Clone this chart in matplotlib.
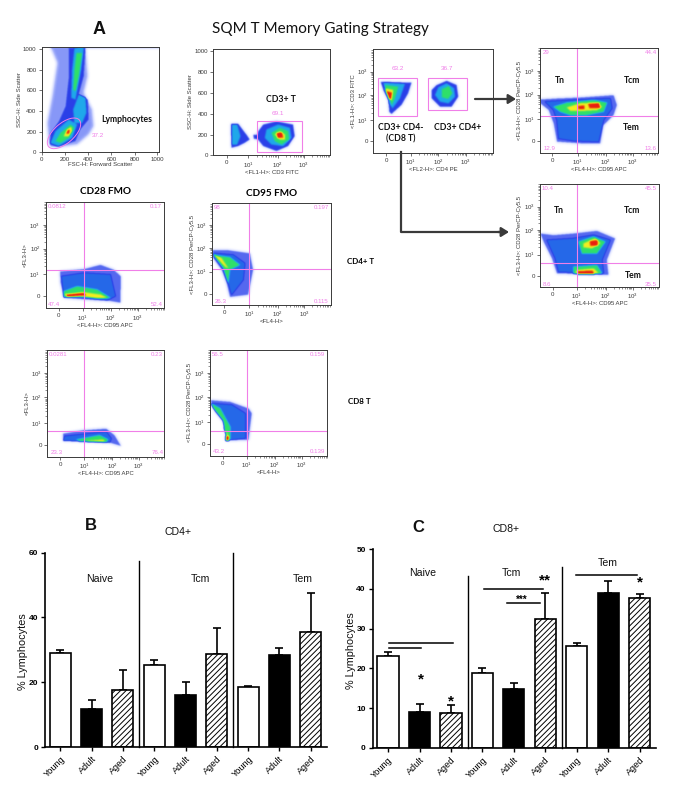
import numpy as np
import matplotlib
matplotlib.use("Agg")
from matplotlib import pyplot as plt
from matplotlib.colors import LinearSegmentedColormap
from matplotlib.patches import Ellipse, Rectangle
from matplotlib.path import Path

plt.rcParams['font.family'] = ['Liberation Sans', 'DejaVu Sans']
plt.rcParams['hatch.linewidth'] = 0.7

W, H = 688, 800
GATE = '#f07fe8'
GREY = '#3a3a3a'

# ---- bar charts ----
groups = ['Young', 'Adult', 'Aged'] * 3
cd4_vals = [29.0, 11.7, 17.6, 25.3, 16.2, 28.6, 18.5, 28.5, 35.5]
cd4_err = [0.9, 2.9, 6.2, 1.7, 3.8, 8.0, 0.3, 2.0, 12.2]
cd8_vals = [23.0, 9.0, 8.9, 18.9, 14.8, 32.4, 25.7, 38.9, 37.7]
cd8_err = [1.2, 2.1, 2.0, 1.3, 1.6, 6.5, 0.8, 3.0, 0.9]
bar_kinds = ['white', 'black', 'hatch'] * 3

# ---- flow panels, outlines are in scan channels, (level, outline), level 1 blue ... 5 red ----
fsc_clouds = [
    (0.45, [(150, 112), (255, 112), (262, 200), (250, 250), (275, 300), (280, 350), (265, 375), (230, 405), (180, 412), (150, 412), (145, 400), (140, 340), (155, 260), (170, 160)]),
    (1, [(150, 109), (478, 109), (478, 114), (150, 114)]),
    (1, [(205, 115), (255, 115), (250, 200), (235, 255), (262, 270), (265, 330), (240, 360), (225, 395), (170, 412), (148, 405), (150, 370), (175, 335), (195, 290), (205, 200)]),
    (2, [(222, 115), (250, 115), (242, 180), (225, 270), (212, 265), (215, 180)]),
    (2, [(235, 255), (255, 265), (258, 310), (245, 340), (222, 340), (218, 300)]),
    (2, [(150, 400), (165, 365), (205, 330), (230, 345), (215, 385), (175, 410)]),
    (3, [(228, 130), (245, 130), (235, 200), (225, 245), (218, 240), (222, 180)]),
    (3, [(165, 395), (180, 370), (210, 345), (222, 355), (205, 385), (180, 400)]),
    (4, [(190, 380), (200, 360), (212, 352), (215, 365), (205, 380)]),
    (5, [(197, 372), (203, 360), (208, 362), (206, 372)]),
    (5, [(232, 106), (250, 106), (250, 113), (232, 113)]),
]
cd3_clouds = [
    (1, [(693, 342), (715, 342), (740, 375), (750, 390), (735, 400), (715, 410), (695, 415)]),
    (1, [(790, 345), (830, 335), (880, 345), (885, 380), (865, 410), (830, 425), (790, 410), (770, 385), (775, 365)]),
    (1, [(760, 375), (780, 375), (775, 390), (762, 388)]),
    (2, [(697, 345), (712, 345), (722, 380), (712, 405), (697, 405)]),
    (2, [(800, 360), (835, 345), (870, 355), (875, 385), (850, 410), (815, 405), (795, 385)]),
    (3, [(815, 370), (840, 355), (865, 365), (868, 390), (845, 405), (825, 395)]),
    (4, [(825, 375), (840, 365), (855, 375), (855, 390), (840, 390)]),
    (5, [(830, 370), (847, 368), (850, 384), (833, 386)]),
]
cd4_clouds = [
    (1, [(122, 215), (215, 218), (205, 250), (185, 285), (155, 312), (148, 305), (145, 270), (130, 240)]),
    (1, [(290, 225), (320, 212), (350, 225), (355, 260), (335, 290), (300, 290), (275, 265), (275, 240)]),
    (2, [(130, 218), (195, 222), (180, 265), (158, 295), (148, 280), (140, 240)]),
    (2, [(295, 232), (320, 220), (342, 235), (345, 260), (325, 280), (300, 275), (285, 255)]),
    (3, [(133, 225), (175, 230), (165, 265), (155, 285), (150, 265)]),
    (3, [(305, 238), (327, 228), (337, 250), (324, 267), (306, 262)]),
    (4, [(135, 235), (160, 240), (155, 270), (150, 270), (140, 250)]),
    (5, [(138, 243), (157, 248), (154, 268), (146, 265)]),
]
tcd4_clouds = [
    (0.8, [(600, 268), (650, 265), (720, 262), (820, 255), (830, 285), (820, 315), (790, 345), (780, 400), (720, 400), (650, 395), (640, 340), (625, 300), (600, 280)]),
    (1.4, [(615, 275), (700, 270), (810, 265), (815, 295), (790, 330), (775, 395), (700, 392), (655, 385), (650, 330), (640, 300)]),
    (3, [(640, 290), (680, 278), (760, 270), (800, 278), (790, 305), (740, 315), (690, 315), (660, 305)]),
    (4, [(680, 292), (720, 280), (770, 278), (785, 290), (770, 300), (720, 303), (690, 302)]),
    (5, [(743, 281), (777, 278), (780, 294), (748, 295)]),
    (5, [(713, 288), (732, 286), (732, 297), (715, 298)]),
]
tcd8_clouds = [
    (0.8, [(600, 190), (640, 195), (700, 190), (770, 182), (825, 205), (800, 270), (805, 315), (650, 310), (635, 265), (610, 215)]),
    (1.4, [(620, 210), (700, 205), (760, 195), (810, 210), (785, 270), (790, 310), (655, 305), (645, 265)]),
    (3, [(715, 215), (760, 200), (795, 215), (770, 250), (725, 250)]),
    (3, [(700, 290), (770, 285), (785, 310), (700, 310)]),
    (4, [(730, 220), (765, 205), (780, 220), (755, 235), (730, 232)]),
    (4, [(710, 300), (760, 295), (775, 310), (705, 310)]),
    (5, [(748, 213), (772, 210), (772, 227), (750, 227)]),
    (5, [(713, 303), (757, 301), (762, 312), (713, 312)]),
]
fmo28_cd4_clouds = [
    (0.8, [(178, 305), (250, 298), (300, 285), (340, 300), (362, 320), (360, 400), (330, 395), (280, 392), (190, 385), (180, 340)]),
    (1.4, [(183, 320), (250, 310), (330, 315), (345, 380), (320, 392), (260, 385), (190, 382)]),
    (3, [(190, 365), (230, 350), (290, 360), (330, 385), (300, 388), (240, 382), (190, 382)]),
    (4, [(190, 375), (250, 368), (300, 375), (320, 385), (290, 386), (240, 380)]),
    (5, [(195, 374), (250, 369), (257, 378), (200, 383)]),
]
fmo95_cd4_clouds = [
    (0.8, [(637, 240), (680, 240), (750, 250), (760, 300), (745, 375), (690, 382), (680, 340), (665, 300), (640, 265)]),
    (1.4, [(640, 250), (700, 255), (735, 280), (730, 330), (695, 375), (685, 340), (670, 290)]),
    (3, [(640, 255), (690, 262), (720, 285), (690, 300), (685, 340), (670, 295)]),
    (4, [(640, 252), (665, 265), (685, 295), (675, 290)]),
]
fmo28_cd8_clouds = [
    (0.8, [(190, 280), (250, 270), (320, 265), (345, 285), (365, 318), (320, 305), (190, 300)]),
    (1.4, [(195, 288), (320, 275), (335, 295), (330, 308), (190, 302)]),
    (3, [(230, 298), (300, 285), (325, 298), (320, 306), (240, 303)]),
    (4, [(260, 302), (310, 298), (318, 305), (265, 304)]),
]
fmo95_cd8_clouds = [
    (0.8, [(630, 180), (690, 185), (745, 205), (755, 220), (745, 300), (680, 302), (672, 250), (645, 215)]),
    (1.4, [(632, 190), (695, 195), (735, 220), (735, 295), (690, 300), (680, 260), (655, 220)]),
    (3, [(632, 190), (660, 205), (690, 260), (690, 298), (680, 298), (668, 240), (640, 205)]),
    (4, [(670, 260), (685, 290), (682, 298), (677, 280)]),
    (5, [(676, 288), (686, 288), (686, 302), (677, 302)]),
]

density_cmap = LinearSegmentedColormap.from_list('flow', [
    (0.0, '#ffffff'), (0.05, '#d4daff'), (0.12, '#7a8cf6'), (0.2, '#2a3fe8'), (0.4, '#1fa8ea'),
    (0.6, '#2fe06a'), (0.8, '#f2ee20'), (1.0, '#e8200f')])


def px_text(x, y, s, **kw):
    kw.setdefault('ha', 'center')
    kw.setdefault('va', 'center')
    fig.text(x / W, 1 - y / H, s, **kw)


def add_box(left, top, right, bottom):
    return fig.add_axes([left / W, 1 - bottom / H, (right - left) / W, (bottom - top) / H])


def blur(grid, size, passes):
    kernel = np.ones(size) / size
    for _ in range(passes):
        grid = np.apply_along_axis(lambda r: np.convolve(r, kernel, mode='same'), 1, grid)
        grid = np.apply_along_axis(lambda r: np.convolve(r, kernel, mode='same'), 0, grid)
    return grid


def density(clouds, xlim, ylim):
    xs = np.arange(xlim[0], xlim[1] + 1)
    ys = np.arange(ylim[0] - 6, ylim[1] + 1)
    gx, gy = np.meshgrid(xs, ys)
    pts = np.column_stack([gx.ravel(), gy.ravel()])
    grid = np.zeros(gx.size)
    for level, outline in clouds:
        grid[Path(outline).contains_points(pts)] = level
    grid = grid.reshape(gx.shape)
    # soft fringe of sparse events round each cloud
    fringe = blur((grid > 0).astype(float), 11, 2) * 0.55
    grid = np.maximum(blur(grid, 5, 2), fringe)
    return grid, (xs[0], xs[-1], ys[-1], ys[0])


def minor_between(major):
    out = []
    for a, b in zip(major[:-1], major[1:]):
        out += [a + (b - a) * np.log10(k) for k in range(2, 10)]
    step = major[-1] - major[-2]
    out += [major[-1] + step * np.log10(k) for k in range(2, 10)]
    return out


def log_labels(n=4):
    return ['0'] + [r'$\mathregular{10^{%d}}$' % i for i in range(1, n)]


def flow_panel(origin, xlim, ylim, clouds, xticks, yticks, xlabels, ylabels, xlabel, ylabel, log_x=True, log_y=True):
    left = origin[0] + xlim[0] / 3
    right = origin[0] + xlim[1] / 3
    top = origin[1] + ylim[0] / 3
    bottom = origin[1] + ylim[1] / 3
    ax = add_box(left, top, right, bottom)
    grid, extent = density(clouds, xlim, ylim)
    ax.imshow(grid, extent=extent, cmap=density_cmap, vmin=0, vmax=5, aspect='auto', interpolation='bilinear')
    ax.set_xlim(xlim)
    ax.set_ylim(ylim[1], ylim[0])
    ax.set_xticks(xticks, xlabels)
    ax.set_yticks(yticks, ylabels)
    if log_x:
        ax.set_xticks([v for v in minor_between(xticks[1:]) if xlim[0] < v < xlim[1]], minor=True)
    if log_y:
        ax.set_yticks([v for v in minor_between(yticks[1:]) if ylim[0] < v < ylim[1]], minor=True)
    ax.tick_params(which='major', length=2.2, width=0.5, labelsize=4.4, pad=1.5, colors=GREY)
    ax.tick_params(which='minor', length=1.2, width=0.4, colors=GREY)
    for s in ax.spines.values():
        s.set_linewidth(0.7)
        s.set_color(GREY)
    ax.set_xlabel(xlabel, fontsize=4.3, labelpad=0, color=GREY)
    ax.set_ylabel(ylabel, fontsize=4.3, labelpad=1, color=GREY)
    return ax


def corners(ax, vx, hy, vals, pos):
    ax.axvline(vx, color=GATE, lw=0.8)
    ax.axhline(hy, color=GATE, lw=0.8)
    for v, (x, y) in zip(vals, pos):
        ax.text(x, y, v, color=GATE, fontsize=4.4, ha='center', va='center')


def bold_label(ax, x, y, s):
    ax.text(x, y, s, family=['Lato', 'DejaVu Sans'], fontweight='bold', fontsize=6.2, ha='center', va='center', color='#111111')


def bar_panel(box, vals, errs, ymax, yticks, seps, texts, ylabel_x):
    ax = add_box(*box)
    x = np.arange(len(vals))
    for xi, v, e, kind in zip(x, vals, errs, bar_kinds):
        face = {'white': 'white', 'black': 'black', 'hatch': 'white'}[kind]
        hatch = '//////' if kind == 'hatch' else None
        ax.bar(xi, v, width=0.675, color=face, edgecolor='black', linewidth=1.2, hatch=hatch, zorder=2)
        ax.errorbar(xi, v, yerr=[[0], [e]], color='black', elinewidth=1.2, capsize=3.2, capthick=1.2, zorder=1)
    for sx, stop in seps:
        ax.plot([sx, sx], [0, stop], color='black', lw=1.0, clip_on=False, zorder=3)
    for tx, ty, s in texts:
        ax.text(tx, ty, s, fontsize=7.6, ha='center', va='center', color='#111111')
    ax.set_xlim(-0.49, 8.52)
    ax.set_ylim(0, ymax)
    ax.set_xticks(x, groups, rotation=45, ha='right', rotation_mode='anchor', fontsize=6.6)
    ax.set_yticks(yticks)
    for lab in ax.get_yticklabels():
        lab.set_fontweight('bold')
        lab.set_fontsize(6)
    ax.tick_params(width=1.0, length=3, pad=2)
    for s in ['top', 'right']:
        ax.spines[s].set_visible(False)
    for s in ['left', 'bottom']:
        ax.spines[s].set_linewidth(1.2)
    px_text(ylabel_x, (box[1] + box[3]) / 2 + 2, '% Lymphocytes', rotation=90, fontsize=7.8, color='#111111')
    return ax


fig = plt.figure(figsize=(W / 100, H / 100), dpi=100)

px_text(320, 29, 'SQM T Memory Gating Strategy', family=['Lato', 'DejaVu Sans'], fontsize=11, color='#111111')
px_text(99, 30, 'A', fontweight='bold', fontsize=13, color='#111111')

# FSC / SSC
ax = flow_panel((0, 10), (125, 478), (110, 427), fsc_clouds, [125, 194, 264, 334, 404, 472], [427, 365, 303, 241, 179, 117],
                ['0', '200', '400', '600', '800', '1000'], ['0', '200', '400', '600', '800', '1000'],
                'FSC-H: Forward Scatter', 'SSC-H: Side Scatter', log_x=False, log_y=False)
ax.add_patch(Ellipse((192, 370), 122, 60, angle=-41, fill=False, edgecolor=GATE, lw=0.7))
ax.text(293, 376, '37.2', color=GATE, fontsize=4.6, ha='center', va='center')
bold_label(ax, 379, 327, 'Lymphocytes')

# CD3 gate
ax = flow_panel((0, 10), (640, 990), (116, 436), cd3_clouds, [680, 745, 833, 912], [436, 374, 311, 249, 186, 123],
                log_labels(), ['0', '200', '400', '600', '800', '1000'],
                '<FL1-H>: CD3 FITC', 'SSC-H: Side Scatter', log_y=False)
ax.add_patch(Rectangle((771, 332), 134, 93, fill=False, edgecolor=GATE, lw=0.8))
ax.text(835, 310, '69.1', color=GATE, fontsize=4.6, ha='center', va='center')
bold_label(ax, 843, 268, 'CD3+ T')

# CD4 gate
ax = flow_panel((340, 10), (100, 458), (118, 428), cd4_clouds, [139, 212, 295, 378], [394, 330, 256, 185],
                log_labels(), log_labels(), '<FL2-H>: CD4 PE', '<FL1-H>: CD3 FITC')
ax.add_patch(Rectangle((115, 203), 117, 115, fill=False, edgecolor=GATE, lw=0.8))
ax.add_patch(Rectangle((264, 203), 118, 97, fill=False, edgecolor=GATE, lw=0.8))
ax.text(173, 175, '63.2', color=GATE, fontsize=4.6, ha='center', va='center')
ax.text(322, 176, '36.7', color=GATE, fontsize=4.6, ha='center', va='center')
bold_label(ax, 182, 353, 'CD3+ CD4-')
bold_label(ax, 182, 386, '(CD8 T)')
bold_label(ax, 352, 353, 'CD3+ CD4+')

# CD4+ memory
ax = flow_panel((340, 10), (600, 955), (115, 428), tcd4_clouds, [637, 713, 797, 878], [394, 328, 254, 183],
                log_labels(), log_labels(), '<FL4-H>: CD95 APC', '<FL3-H>: CD28 PerCP-Cy5.5')
corners(ax, 712, 318, ['29', '44.4', '12.9', '13.6'], [(617, 127), (932, 127), (628, 416), (933, 416)])
bold_label(ax, 660, 211, 'Tn')
bold_label(ax, 875, 211, 'Tcm')
bold_label(ax, 875, 352, 'Tem')

# CD8+ memory
ax = flow_panel((340, 170), (600, 958), (43, 350), tcd8_clouds, [638, 710, 798, 878], [318, 254, 180, 110],
                log_labels(), log_labels(), '<FL4-H>: CD95 APC', '<FL3-H>: CD28 PerCP-Cy5.5')
corners(ax, 710, 279, ['10.4', '45.5', '8.6', '35.5'], [(622, 57), (933, 57), (620, 342), (933, 342)])
bold_label(ax, 658, 121, 'Tn')
bold_label(ax, 875, 122, 'Tcm')
bold_label(ax, 880, 317, 'Tem')

# FMO row CD4
ax = flow_panel((0, 170), (137, 493), (97, 415), fmo28_cd4_clouds, [176, 248, 332, 414], [378, 312, 236, 165],
                log_labels(), log_labels(), '<FL4-H>: CD95 APC', '<FL3-H>')
corners(ax, 253, 300, ['0.0812', '0.17', '47.4', '52.4'], [(170, 108), (468, 108), (163, 402), (470, 402)])
ax = flow_panel((0, 170), (637, 992), (100, 405), fmo95_cd4_clouds, [673, 748, 833, 913], [372, 305, 234, 165],
                log_labels(), log_labels(), '<FL4-H>', '<FL3-H>: CD28 PerCP-Cy5.5')
corners(ax, 747, 297, ['98', '0.197', '26.3', '0.115'], [(652, 112), (963, 112), (662, 394), (963, 394)])
px_text(106, 192, 'CD28 FMO', family=['Lato', 'DejaVu Sans'], fontweight='bold', fontsize=7.2)
px_text(272, 194, 'CD95 FMO', family=['Lato', 'DejaVu Sans'], fontweight='bold', fontsize=7.2)
px_text(361, 262, 'CD4+ T', family=['Lato', 'DejaVu Sans'], fontweight='bold', fontsize=5.8)

# FMO row CD8
ax = flow_panel((0, 340), (142, 493), (30, 350), fmo28_cd8_clouds, [181, 253, 337, 416], [314, 250, 172, 100],
                log_labels(), log_labels(), '<FL4-H>: CD95 APC', '<FL3-H>')
corners(ax, 253, 274, ['0.0281', '0.23', '23.3', '76.4'], [(175, 43), (471, 43), (170, 338), (472, 338)])
ax = flow_panel((0, 340), (630, 982), (30, 348), fmo95_cd8_clouds, [668, 740, 825, 905], [312, 247, 172, 100],
                log_labels(), log_labels(), '<FL4-H>', '<FL3-H>: CD28 PerCP-Cy5.5')
corners(ax, 740, 272, ['56.5', '0.159', '43.2', '0.139'], [(653, 43), (953, 43), (657, 335), (953, 335)])
px_text(359, 402, 'CD8 T', family=['Lato', 'DejaVu Sans'], fontweight='bold', fontsize=5.8)

# arrows between gates
over = fig.add_axes([0, 0, 1, 1], facecolor='none')
over.set_xlim(0, W)
over.set_ylim(H, 0)
over.axis('off')
arrow_style = dict(arrowstyle='-|>,head_length=0.45,head_width=0.28', color=GREY, lw=1.6, shrinkA=0, shrinkB=0)
over.annotate('', xy=(516, 99), xytext=(475, 99), arrowprops=arrow_style)
over.plot([401, 401, 500], [152, 232, 232], color=GREY, lw=1.6)
over.annotate('', xy=(509, 232), xytext=(498, 232), arrowprops=arrow_style)

# panel B
ax = bar_panel((45, 552.7, 327, 747), cd4_vals, cd4_err, 60, [0, 20, 40, 60],
               [(2.51, 57.5), (5.51, 60)], [(1.27, 51.8, 'Naive'), (4.49, 51.8, 'Tcm'), (7.76, 51.9, 'Tem')], 23)
px_text(91, 525, 'B', fontweight='bold', fontsize=12, color='#111111')
px_text(178, 532, 'CD4+', fontsize=7.6, color='#111111')

# panel C
ax = bar_panel((372.7, 549, 656, 748), cd8_vals, cd8_err, 50, [0, 10, 20, 30, 40, 50],
               [(2.53, 43.2), (5.53, 45.5)], [(1.09, 44, 'Naive'), (3.91, 44, 'Tcm'), (7.0, 46.6, 'Tem')], 351)
sig_lines = [(0.04, 2.07, 26.4), (0.04, 1.04, 25.1), (3.06, 4.92, 39.9), (3.79, 4.84, 36.5), (5.97, 7.9, 43.4)]
sig_stars = [(1.03, 17.2, '*', 11), (2.0, 11.7, '*', 11), (4.24, 37.2, '***', 7), (4.98, 42, '**', 11), (8.0, 41.7, '*', 11)]
for x0, x1, y in sig_lines:
    ax.plot([x0, x1], [y, y], color='black', lw=1.1)
for x0, y, s, fs in sig_stars:
    ax.text(x0, y, s, fontsize=fs, fontweight='bold', ha='center', va='center')
px_text(418, 528, 'C', fontweight='bold', fontsize=12, color='#111111')
px_text(506, 529, 'CD8+', fontsize=7.6, color='#111111')

fig.savefig('out.png', dpi=100)
